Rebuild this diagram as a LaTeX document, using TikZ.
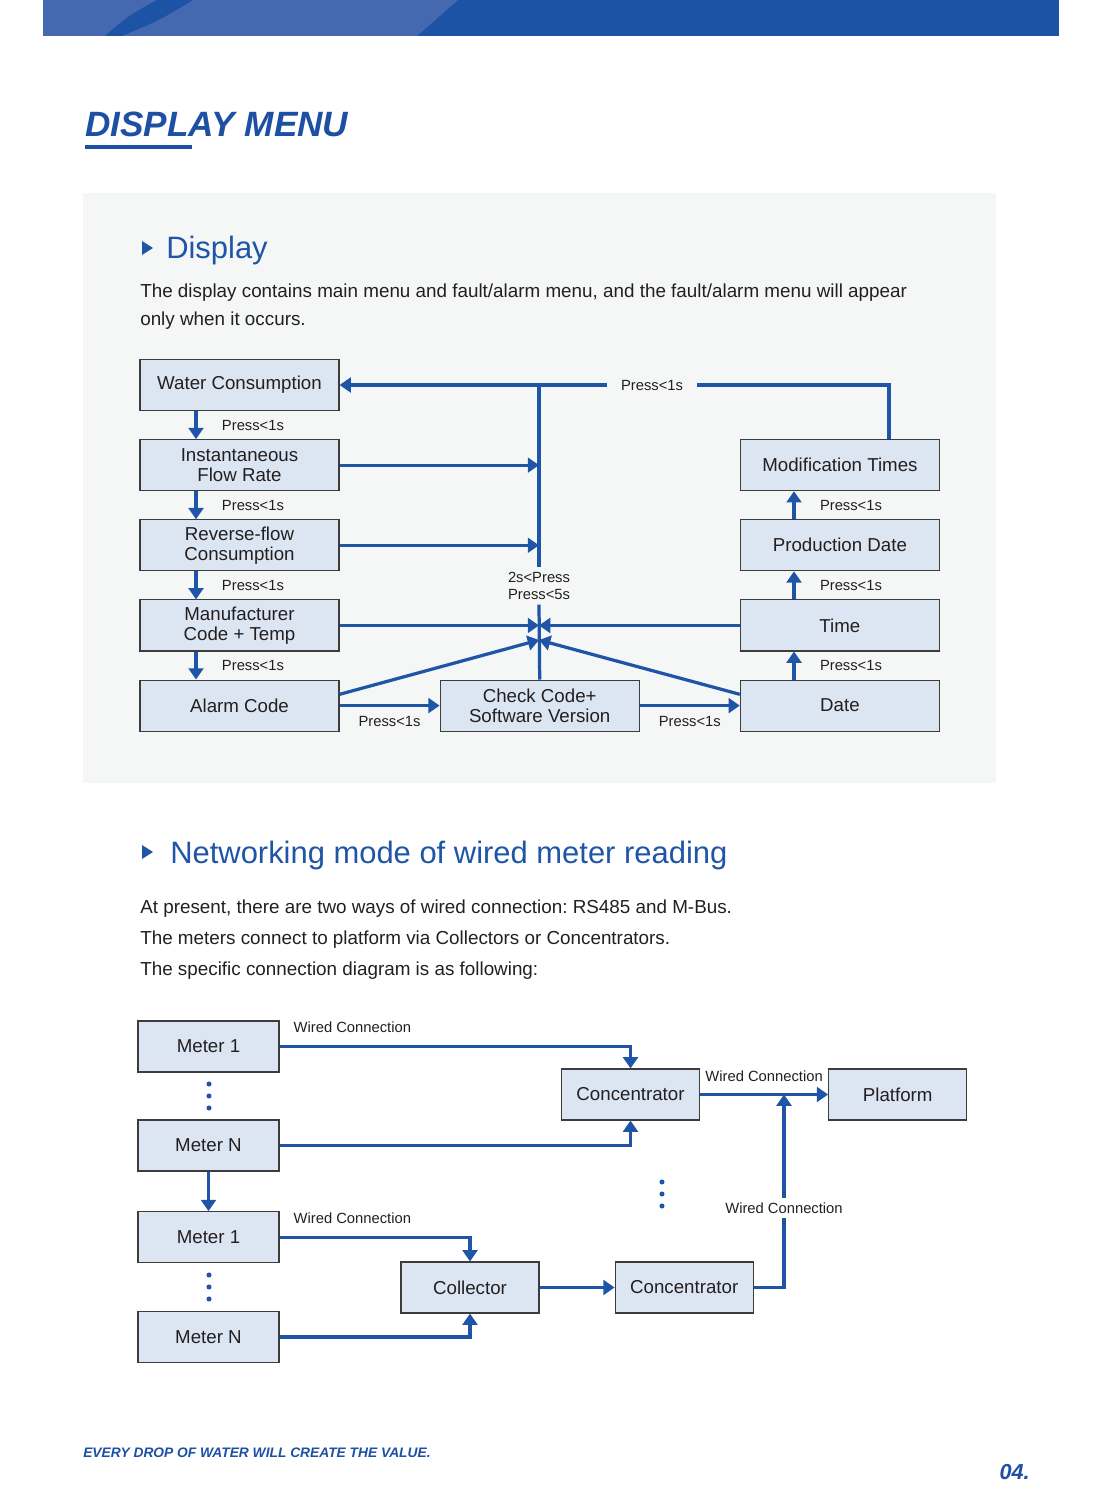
\documentclass[tikz,border=0pt]{standalone}
\usepackage{fontspec}
\setmainfont{Liberation Sans}
\frenchspacing
\usetikzlibrary{arrows.meta, positioning}

\definecolor{barblue}{HTML}{1C53A5}
\definecolor{barlight}{HTML}{4469B1}
\definecolor{titleblue}{HTML}{1D4FA3}
\definecolor{inkblue}{HTML}{1F55A6}
\definecolor{panelgray}{HTML}{F5F7F7}
\definecolor{boxfill}{HTML}{DCE6F2}
\definecolor{boxline}{HTML}{3C3C3C}
\definecolor{inktext}{HTML}{231F20}

\begin{document}
\begin{tikzpicture}[x=0.025cm, y=-0.025cm]
	\tikzset{>={Triangle[length=8pt,width=10.5pt]}, node distance=0.7cm,
		box/.style={draw=boxline, line width=0.8pt, fill=boxfill, minimum width=4.975cm, minimum height=1.275cm, inner sep=0pt, align=center, text=inktext, font=\fontsize{13.3}{14.2}\selectfont},
		meterbox/.style={box, minimum width=3.525cm},
		netbox/.style={box, minimum width=3.45cm},
		link/.style={draw=inkblue, line width=2.3pt},
		lbl/.style={text=inktext, font=\fontsize{10.5}{12}\selectfont, align=center},
		body/.style={anchor=base west, inner sep=0pt, text=inktext, font=\fontsize{13.4}{16}\selectfont},
		heading/.style={anchor=base west, inner sep=0pt, text=inkblue, font=\fontsize{22}{26}\selectfont},
		slogan/.style={inner sep=0pt, text=titleblue, font=\bfseries\itshape}
	}
	\useasboundingbox (0,0) rectangle (1102,1496);

	% banner and title
	\fill[barblue] (43,0) rectangle (1059,36);
	\fill[barlight] (43,0) -- (458,0) -- (417,36) -- (43,36) -- cycle;
	\fill[barblue] (105,36) .. controls (128,16) .. (157,0) -- (193,0) .. controls (160,20) .. (122,36) -- cycle;
	\node[slogan, anchor=base west, font=\fontsize{25}{30}\selectfont\bfseries\itshape] (ttl) at (85,137) {DISPLAY MENU};
	\draw[titleblue, line width=2.2pt] (85,147) -- (192,147);

	% display section
	\fill[panelgray] (83,193) rectangle (996,783);
	\fill[inkblue] (142,241) -- (153,248) -- (142,255) -- cycle;
	\node[heading] (hdisp) at (166,259) {Display};
	\node[body] (ta) at (140,298) {The display contains main menu and fault/alarm menu, and the fault/alarm menu will appear};
	\node[body] (tb) at (140,326) {only when it occurs.};

	\node[box] (wc) at (239.5,385) {Water Consumption};
	\node[box, below=of wc] (ifr) {Instantaneous\\Flow Rate};
	\node[box, below=of ifr] (rfc) {Reverse-flow\\Consumption};
	\node[box, below=of rfc] (mfc) {Manufacturer\\Code + Temp};
	\node[box, below=of mfc] (al) {Alarm Code};
	\node[box, right=2.5cm of al] (chk) {Check Code+\\Software Version};
	\node[box, right=2.5cm of chk] (dt) {Date};
	\node[box, above=of dt] (tm) {Time};
	\node[box, above=of tm] (pd) {Production Date};
	\node[box, above=of pd] (mt) {Modification Times};

	\coordinate (lcol) at (196,0);
	\coordinate (rcol) at (794,0);
	\coordinate (ret) at (889,0);
	\coordinate (meet) at (539,640);

	\foreach \a/\b in {wc/ifr, ifr/rfc, rfc/mfc, mfc/al}
		\draw[link, ->] (\a.south -| lcol) -- node[lbl, right=14pt] (p\a) {Press<1s} (\b.north -| lcol);
	\foreach \a/\b in {dt/tm, tm/pd, pd/mt}
		\draw[link, ->] (\a.north -| rcol) -- node[lbl, right=14pt] (p\a) {Press<1s} (\b.south -| rcol);

	\node[lbl] (hold) at (539,586) {2s<Press\\Press<5s};
	\node[lbl, inner xsep=10pt] (back) at (652,385) {Press<1s};
	\draw[link] (chk.north) -- (hold.south);
	\draw[link] (hold.north) -- (hold.north |- wc.east);
	\draw[link] (mt.north -| ret) |- (back.east);
	\draw[link, ->] (back.west) -- (wc.east);
	\draw[link, ->] (ifr.east) -- (ifr.east -| hold);
	\draw[link, ->] (rfc.east) -- (rfc.east -| hold);
	\draw[link, ->] (mfc.east) -- (mfc.east -| hold);
	\draw[link, ->] (tm.west) -- (tm.west -| hold);
	\draw[link, ->] ([yshift=8pt]al.east) -- (meet);
	\draw[link, ->] ([yshift=8pt]dt.west) -- (meet);
	\draw[link, ->] (al.east) -- node[lbl, below=3pt] (pal) {Press<1s} (chk.west);
	\draw[link, ->] (chk.east) -- node[lbl, below=3pt] (pchk) {Press<1s} (dt.west);

	% networking section
	\fill[inkblue] (142,845) -- (153,852) -- (142,859) -- cycle;
	\node[heading] (hnet) at (170,863) {Networking mode of wired meter reading};
	\node[body] (na) at (140,913) {At present, there are two ways of wired connection: RS485 and M-Bus.};
	\node[body] (nb) at (140,944) {The meters connect to platform via Collectors or Concentrators.};
	\node[body] (nc) at (140,975) {The specific connection diagram is as following:};

	\node[meterbox] (ma) at (208.5,1046.5) {Meter 1};
	\node[meterbox, below=1.17cm of ma] (mb) {Meter N};
	\node[meterbox, below=0.99cm of mb] (mc) {Meter 1};
	\node[meterbox, below=1.19cm of mc] (md) {Meter N};
	\node[netbox] (cona) at (630.5,1094.5) {Concentrator};
	\node[netbox, right=3.2cm of cona] (pf) {Platform};
	\node[netbox] (col) at (470,1287.5) {Collector};
	\node[netbox, right=1.875cm of col] (conb) {Concentrator};
	\node[lbl] (up) at (784,1208) {Wired Connection};
	\node[lbl, above right=6pt and 6.5pt of ma.east] (wma) {Wired Connection};
	\node[lbl, above right=6pt and 6.5pt of mc.east] (wmc) {Wired Connection};

	\draw[link, ->] (ma.east) -| (cona.north);
	\draw[link, ->] (mb.east) -| (cona.south);
	\draw[link, ->] (mb.south) -- (mc.north);
	\draw[link, ->] (mc.east) -| (col.north);
	\draw[link, ->] (md.east) -| (col.south);
	\draw[link, ->] (col.east) -- (conb.west);
	\draw[link, ->] (cona.east) -- node[lbl, above=5pt] (wpf) {Wired Connection} (pf.west);
	\draw[link] (conb.east) -| (up.south);
	\draw[link, ->] (up.north) -- (up.north |- cona.east);

	\foreach \y in {1084,1096,1108,1275,1287,1299}
		\fill[inkblue] (209,\y) circle[radius=1.8pt];
	\foreach \y in {1182,1194,1206}
		\fill[inkblue] (662,\y) circle[radius=1.8pt];

	% footer
	\node[slogan, anchor=base west, font=\fontsize{9.8}{12}\selectfont\bfseries\itshape] (ft) at (83,1457) {EVERY DROP OF WATER WILL CREATE THE VALUE.};
	\node[slogan, anchor=base east, font=\fontsize{15.4}{18}\selectfont\bfseries\itshape] (pg) at (1030,1479) {04.};
\end{tikzpicture}
\end{document}
